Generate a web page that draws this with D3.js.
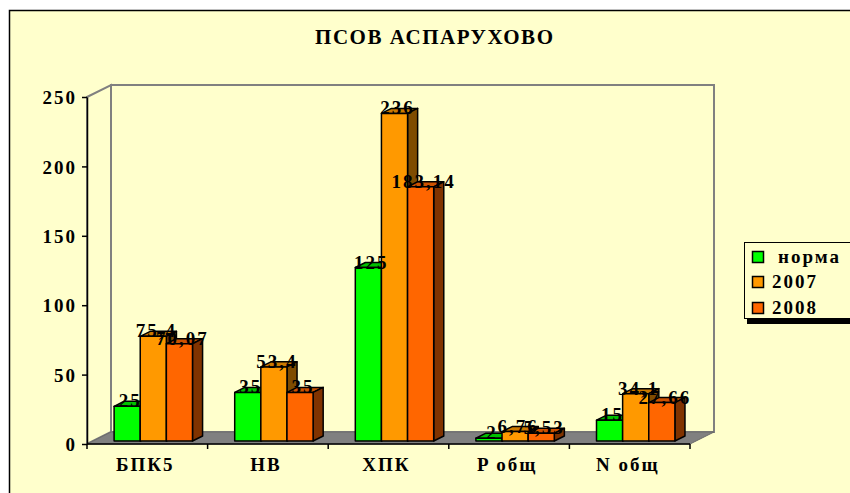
<!DOCTYPE html>
<html>
<head>
<meta charset="utf-8">
<title>ПСОВ АСПАРУХОВО</title>
<script src="https://d3js.org/d3.v7.min.js"></script>
<style>
  body { margin: 0; background: #fff; }
  text { font-family: "Liberation Serif", "Times New Roman", serif; font-weight: bold; fill: #000; }
</style>
</head>
<body>
<script>
// data
var categories = ["БПК5", "НВ", "ХПК", "P общ", "N общ"];
var seriesNames = ["норма", "2007", "2008"];
var norma = [25, 35, 125, 2, 15];
var y2007 = [75.4, 53.4, 236, 6.76, 34.1];
var y2008 = [70.07, 35, 183.14, 5.53, 27.66];
var yTicks = [0, 50, 100, 150, 200, 250];
var seriesValues = [norma, y2007, y2008];

// colours: front, top, side
var colors = [
  {front: "#00FF00", top: "#00C000", side: "#008000"},
  {front: "#FF9900", top: "#CC7A00", side: "#7F4C00"},
  {front: "#FF6600", top: "#CC5200", side: "#803300"}
];

var W = 850, H = 493;
var svg = d3.select("body").append("svg").attr("width", W).attr("height", H);

// chart area
svg.append("rect")
  .attr("x", 9.5).attr("y", 10.5).attr("width", 860).attr("height", 500)
  .attr("fill", "#FFFFCC").attr("stroke", "#000").attr("stroke-width", 1.5);

// scales (front plane)
var x = d3.scaleBand().domain(categories).range([87, 690]);
var y = d3.scaleLinear().domain([0, 250]).range([444, 97]);
var depth = {dx: 24, dy: -12};
var bw = x.bandwidth();
var xs = d3.scaleBand().domain(seriesNames).range([bw * 0.175, bw * 0.825]);

function P(px, v, z) { return [px + z * depth.dx, y(v) + z * depth.dy]; }

// walls
var x0 = x.range()[0], x1 = x.range()[1];
svg.append("polygon")
  .attr("points", [P(x0, 250, 0), P(x0, 250, 1), P(x0, 0, 1), P(x0, 0, 0)].join(" "))
  .attr("fill", "#FFFFCC").attr("stroke", "#808080").attr("stroke-width", 2);
svg.append("polygon")
  .attr("points", [P(x0, 250, 1), P(x1, 250, 1), P(x1, 0, 1), P(x0, 0, 1)].join(" "))
  .attr("fill", "#FFFFCC").attr("stroke", "#808080").attr("stroke-width", 2);
// floor
svg.append("polygon")
  .attr("points", [P(x0, 0, 0), P(x1, 0, 0), P(x1, 0, 1), P(x0, 0, 1)].join(" "))
  .attr("fill", "#808080").attr("stroke", "#6a6a6a").attr("stroke-width", 1);

// bars
var zf = 0.25, zb = 0.67;
categories.forEach(function(c, i) {
  seriesNames.forEach(function(s, j) {
    var v = seriesValues[j][i];
    var xa = x(c) + xs(s), xb = xa + xs.bandwidth();
    var col = colors[j];
    var g = svg.append("g").attr("stroke", "#000").attr("stroke-width", 1.5).attr("stroke-linejoin", "round");
    g.append("polygon").attr("fill", col.top)
      .attr("points", [P(xa, v, zf), P(xb, v, zf), P(xb, v, zb), P(xa, v, zb)].join(" "));
    g.append("polygon").attr("fill", col.side)
      .attr("points", [P(xb, 0, zf), P(xb, v, zf), P(xb, v, zb), P(xb, 0, zb)].join(" "));
    var f0 = P(xa, v, zf), f1 = P(xb, 0, zf);
    g.append("rect").attr("fill", col.front)
      .attr("x", f0[0]).attr("y", f0[1]).attr("width", f1[0] - f0[0]).attr("height", f1[1] - f0[1]);
  });
});

// value labels
categories.forEach(function(c, i) {
  seriesNames.forEach(function(s, j) {
    var v = seriesValues[j][i];
    var xa = x(c) + xs(s);
    var f = P(xa + xs.bandwidth() / 2, v, zf);
    svg.append("text")
      .attr("x", f[0] + 3).attr("y", f[1] + 1)
      .attr("text-anchor", "middle")
      .style("font-size", "19px").style("letter-spacing", "2px")
      .text(String(v).replace(".", ","));
  });
});

// y axis
var yAxis = svg.append("g")
  .attr("transform", "translate(" + x0 + ",0)")
  .call(d3.axisLeft(y).tickValues(yTicks).tickSize(5).tickSizeOuter(0).tickPadding(6));
yAxis.select(".domain").attr("stroke", "#000").attr("stroke-width", 1.5);
yAxis.selectAll(".tick line").attr("stroke", "#000").attr("stroke-width", 1.5);
yAxis.selectAll(".tick text")
  .attr("x", -10).attr("dy", "0.35em")
  .style("font-size", "19px").style("letter-spacing", "2px")
  .style("font-family", "'Liberation Serif', 'Times New Roman', serif").style("font-weight", "bold");

// x axis
svg.append("line")
  .attr("x1", x0).attr("x2", x1).attr("y1", y(0)).attr("y2", y(0))
  .attr("stroke", "#000").attr("stroke-width", 1.5);
var bounds = categories.map(function(c) { return x(c); }).concat([x1]);
svg.selectAll(".xtick").data(bounds).enter().append("line")
  .attr("x1", function(d) { return d; }).attr("x2", function(d) { return d; })
  .attr("y1", y(0)).attr("y2", y(0) + 5)
  .attr("stroke", "#000").attr("stroke-width", 1.5);
svg.selectAll(".xlab").data(categories).enter().append("text")
  .attr("x", function(d) { return x(d) + bw / 2 - 2; })
  .attr("y", 471)
  .attr("text-anchor", "middle")
  .style("font-size", "19px").style("letter-spacing", "2px")
  .text(function(d) { return d; });

// title
svg.append("text")
  .attr("x", 315).attr("y", 44)
  .attr("textLength", 238).attr("lengthAdjust", "spacing")
  .style("font-size", "21px")
  .text("ПСОВ АСПАРУХОВО");

// legend
var lg = svg.append("g");
lg.append("rect").attr("x", 747).attr("y", 318).attr("width", 120).attr("height", 6).attr("fill", "#000");
lg.append("rect").attr("x", 744.5).attr("y", 242.5).attr("width", 120).attr("height", 76)
  .attr("fill", "#FFFFCC").attr("stroke", "#000").attr("stroke-width", 1);
var ly = [257, 282, 308];
seriesNames.forEach(function(s, j) {
  lg.append("rect").attr("x", 752.5).attr("y", ly[j] - 5.5).attr("width", 11).attr("height", 11)
    .attr("fill", colors[j].front).attr("stroke", "#000").attr("stroke-width", 1.5);
  lg.append("text").attr("x", j === 0 ? 778 : 772).attr("y", ly[j] + 6)
    .style("font-size", "19px").style("letter-spacing", "2px")
    .text(s);
});
</script>
</body>
</html>
